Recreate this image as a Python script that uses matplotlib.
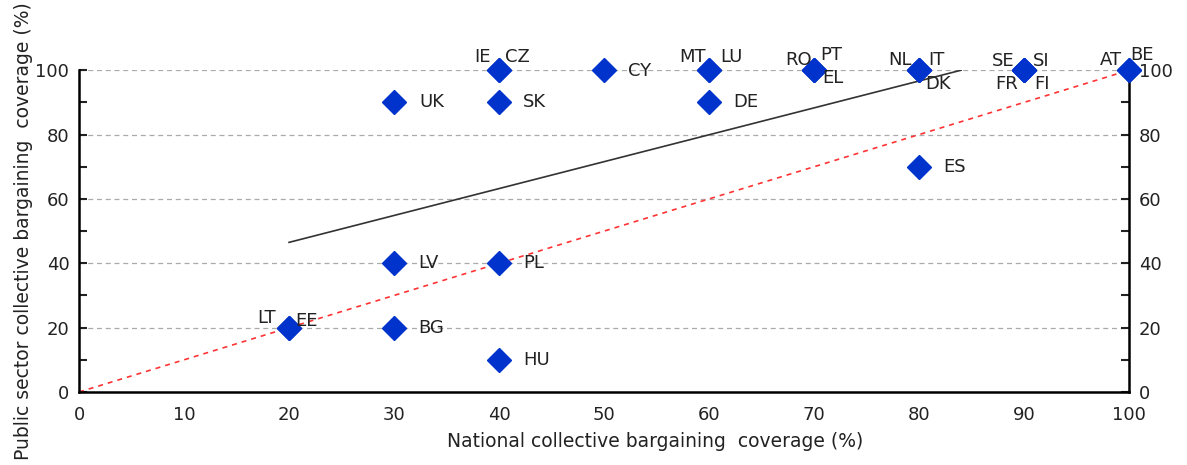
import numpy as np
import matplotlib.pyplot as plt
from matplotlib.ticker import MultipleLocator

# national vs public sector collective bargaining coverage, by country
countries = ['LT', 'EE', 'LV', 'BG', 'UK', 'PL', 'HU', 'SK', 'IE', 'CZ', 'CY',
             'DE', 'MT', 'LU', 'RO', 'PT', 'EL', 'NL', 'IT', 'DK', 'ES',
             'SE', 'SI', 'FR', 'FI', 'AT', 'BE']
national = [20, 20, 30, 30, 30, 40, 40, 40, 40, 40, 50,
            60, 60, 60, 70, 70, 70, 80, 80, 80, 80,
            90, 90, 90, 90, 100, 100]
public = [20, 20, 40, 20, 90, 40, 10, 90, 100, 100, 100,
          90, 100, 100, 100, 100, 100, 100, 100, 100, 70,
          100, 100, 100, 100, 100, 100]

# fitted trend line end points and the 45 degree reference
trend_x = [20, 84]
trend_y = [46.5, 100]
diag = [0, 100]

# label offsets in pixels (dx, dy, ha)
offsets = {
    'LT': (-13, 10, 'right'), 'EE': (6, 7, 'left'),
    'LV': (24, 0, 'left'), 'BG': (24, 0, 'left'), 'UK': (25, 0, 'left'),
    'PL': (24, 0, 'left'), 'HU': (24, 0, 'left'), 'SK': (24, 0, 'left'),
    'IE': (-8, 13, 'right'), 'CZ': (6, 13, 'left'), 'CY': (24, -1, 'left'),
    'DE': (24, 0, 'left'), 'MT': (-3, 13, 'right'), 'LU': (11, 13, 'left'),
    'RO': (-2, 10, 'right'), 'PT': (6, 15, 'left'), 'EL': (8, -8, 'left'),
    'NL': (-7, 10, 'right'), 'IT': (9, 10, 'left'), 'DK': (6, -14, 'left'),
    'ES': (24, 0, 'left'),
    'SE': (-10, 9, 'right'), 'SI': (9, 9, 'left'),
    'FR': (-6, -14, 'right'), 'FI': (10, -14, 'left'),
    'AT': (-7, 10, 'right'), 'BE': (1, 15, 'left'),
}

plt.rcParams['font.family'] = 'DejaVu Sans'
fig = plt.figure(figsize=(11.87, 4.65), dpi=100)
ax = fig.add_axes([0.0666, 0.157, 0.8846, 0.692])

ax.plot(diag, diag, color='#ff3333', ls=(0, (3, 3)), lw=1.2, zorder=2)
ax.plot(trend_x, trend_y, color='#333333', lw=1.2, zorder=2)
ax.plot(national, public, ls='none', marker='D', ms=12, color='#0033cc',
        zorder=4, clip_on=False)

for c, x, y in zip(countries, national, public):
    dx, dy, ha = offsets[c]
    ax.annotate(c, (x, y), xytext=(dx * 0.72, dy * 0.72), textcoords='offset points',
                ha=ha, va='center', fontsize=13, color='#222222', zorder=5)

ax.set_xlim(0, 100)
ax.set_ylim(0, 100)
ax.xaxis.set_major_locator(MultipleLocator(10))
ax.yaxis.set_major_locator(MultipleLocator(20))
ax.yaxis.set_minor_locator(MultipleLocator(10))
ax.grid(axis='y', color='#aaaaaa', ls=(0, (4, 3)), lw=0.9)
ax.set_axisbelow(True)

ax.spines['top'].set_visible(False)
for s in ['left', 'right', 'bottom']:
    ax.spines[s].set_linewidth(1.8)
    ax.spines[s].set_color('black')
ax.tick_params(axis='x', length=0, pad=10, labelsize=13, colors='#222222')
ax.tick_params(axis='y', which='both', direction='in', left=True, right=True,
               labelright=True, labelsize=13, colors='#222222', width=1.5)
ax.tick_params(axis='y', which='major', length=6, pad=7)
ax.tick_params(axis='y', which='minor', length=6)

ax.set_xlabel('National collective bargaining  coverage (%)', fontsize=13.5,
              color='#222222', labelpad=6)
ax.xaxis.set_label_coords(0.549, -0.125)
ax.set_ylabel('Public sector collective bargaining  coverage (%)', fontsize=13.5,
              color='#222222', labelpad=2)

fig.savefig('out.png', dpi=100)
